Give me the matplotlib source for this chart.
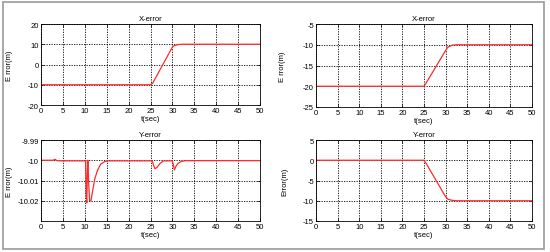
import matplotlib.pyplot as plt
from matplotlib.patches import Rectangle

plt.rcParams['font.family'] = ['Liberation Sans', 'DejaVu Sans']
plt.rcParams['font.size'] = 5.5

# X-error (left), reference +10 offset
x_err_t = [0, 25, 25.5, 30, 30.5, 31.5, 32.5, 50]
x_err_l = [-10, -10, -9.2, 8.6, 9.4, 9.9, 10, 10]
x_err_r = [-20, -20, -19.2, -11.4, -10.6, -10.1, -10, -10]

# Y-error (left), small disturbances around -10
y_err_l_t = [0, 2.8, 3.2, 3.6, 4.2, 10.2, 10.3, 10.45, 10.6, 10.7, 10.9, 11.1, 11.4,
             11.8, 12.3, 12.9, 13.6, 14.5, 15.2, 25.4, 25.7, 26.0, 26.5, 27.2, 28.0,
             30.0, 30.2, 30.45, 30.8, 31.3, 32.0, 33.0, 50]
y_err_l = [-10, -10, -9.9995, -10.0002, -10.0003, -10.0003, -10.016, -10.021, -10.005,
           -10.0, -10.012, -10.020, -10.020, -10.015, -10.009, -10.005, -10.002,
           -10.0007, -10.0003, -10.0003, -10.0025, -10.0042, -10.0035, -10.0015,
           -10.0003, -10.0003, -10.002, -10.0048, -10.003, -10.0015, -10.0006,
           -10.0002, -10.0002]

# Y-error (right)
y_err_r_t = [0, 25, 25.5, 30, 30.5, 31.5, 32.5, 50]
y_err_r = [0, 0, -0.8, -9.0, -9.6, -9.9, -10, -10]

xticks = list(range(0, 51, 5))

fig = plt.figure(figsize=(5.5, 2.53), dpi=100)
fig.patches.append(Rectangle((3 / 550, 3 / 253), 541 / 550, 247 / 253,
                             transform=fig.transFigure, fill=False,
                             edgecolor='#999999', linewidth=1.2))

W, H = 550, 253


def make_ax(l, r, t, b):
    return fig.add_axes([l / W, 1 - b / H, (r - l) / W, (b - t) / H])


axes = [make_ax(41, 260, 25, 106), make_ax(316, 532, 25, 108),
        make_ax(41, 260, 141, 222), make_ax(316, 532, 141, 222)]

panels = [
    (x_err_t, x_err_l, 'X-error', (-20, 20), [-20, -10, 0, 10, 20],
     ['-20', '-10', '0', '10', '20'], 'E rror(m)', -0.13),
    (x_err_t, x_err_r, 'X-error', (-25, -5), [-25, -20, -15, -10, -5],
     ['-25', '-20', '-15', '-10', '-5'], 'E rror(m)', -0.14),
    (y_err_l_t, y_err_l, 'Y-error', (-10.03, -9.99), [-10.02, -10.01, -10, -9.99],
     ['-10.02', '-10.01', '-10', '-9.99'], 'E rror(m)', -0.13),
    (y_err_r_t, y_err_r, 'Y-error', (-15, 5), [-15, -10, -5, 0, 5],
     ['-15', '-10', '-5', '0', '5'], 'Error(m)', -0.13),
]

for ax, (t, v, title, ylim, yt, ytl, ylab, ylx) in zip(axes, panels):
    ax.plot(t, v, color='#ff2a2a', linewidth=0.9)
    ax.set_xlim(0, 50)
    ax.set_ylim(*ylim)
    ax.set_xticks(xticks)
    ax.set_yticks(yt, labels=ytl)
    ax.grid(True, color='black', linestyle=(0, (1.5, 1.5)), linewidth=0.6)
    ax.tick_params(direction='in', length=2, width=0.5, pad=1.5, labelsize=5.5,
                   top=True, right=True)
    for s in ax.spines.values():
        s.set_linewidth(0.6)
    ax.set_title(title, fontsize=5.5, pad=3)
    ax.set_xlabel('t(sec)', fontsize=5.5, labelpad=1)
    ax.set_ylabel(ylab, fontsize=5.5)
    ax.yaxis.set_label_coords(ylx, 0.5)

plt.savefig('out.png', dpi=100)
plt.close(fig)
